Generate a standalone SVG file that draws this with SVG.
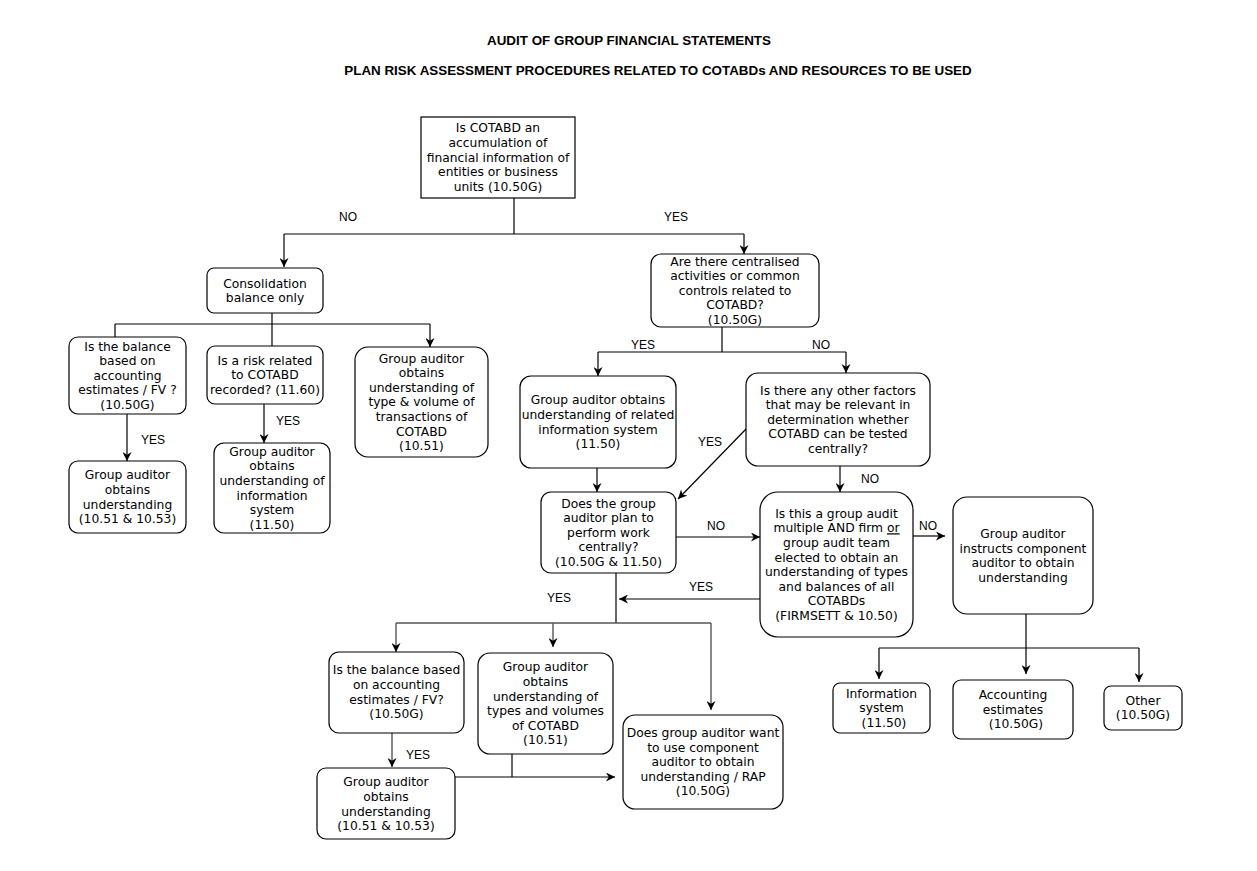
<svg xmlns="http://www.w3.org/2000/svg" width="1257" height="871" viewBox="0 0 1257 871">
<defs>
<marker id="ah" viewBox="0 0 10 10" refX="10" refY="5" markerWidth="9" markerHeight="9" markerUnits="userSpaceOnUse" orient="auto">
<path d="M0,0 L10,5 L0,10 L3,5 z" fill="#000"/>
</marker>
</defs>
<style>
.bx{fill:#fff;stroke:#000;stroke-width:1.2}
.t{font-family:"DejaVu Sans",Verdana,sans-serif;font-size:12.3px;fill:#000;text-anchor:middle}
.l{font-family:"Liberation Sans",Arial,sans-serif;font-size:12px;fill:#000}
.h{font-family:"Liberation Sans",Arial,sans-serif;font-size:13.4px;font-weight:bold;fill:#000;text-anchor:middle}
.c{fill:none;stroke:#000;stroke-width:1.2}
.g{fill:none;stroke:#555;stroke-width:1.4}
.a{marker-end:url(#ah)}
</style>
<rect width="1257" height="871" fill="#fff"/>
<text class="h" x="629" y="45">AUDIT OF GROUP FINANCIAL STATEMENTS</text>
<text class="h" x="658" y="75">PLAN RISK ASSESSMENT PROCEDURES RELATED TO COTABDs AND RESOURCES TO BE USED</text>

<g id="connectors">
<path class="c" d="M514,198 V234 M284,234 H744"/>
<path class="c a" d="M284,234 V267"/>
<path class="c a" d="M744,234 V254"/>
<path class="c" d="M272,313 V346 M115,324 H430 M115,324 V337"/>
<path class="c a" d="M430,324 V347"/>
<path class="c a" d="M127,414 V461"/>
<path class="c a" d="M264,404 V443"/>
<path class="c" d="M722,327 V352 M598,352 H846"/>
<path class="c a" d="M598,352 V376"/>
<path class="c a" d="M846,352 V373"/>
<path class="c a" d="M597,468 V492"/>
<path class="c a" d="M747,428 L678,499"/>
<path class="c a" d="M840,466 V492"/>
<path class="c a" d="M676,537 H760"/>
<path class="c a" d="M913,536 H945"/>
<path class="g a" d="M760,599 H619"/>
<path class="c" d="M616,573 V623"/>
<path class="g" d="M396,623 H711"/>
<path class="g a" d="M396,623 V652"/>
<path class="g a" d="M553,623 V647"/>
<path class="g a" d="M711,623 V710"/>
<path class="g a" d="M392,733 V767"/>
<path class="c" d="M512,754 V777"/>
<path class="c a" d="M455,777 H615"/>
<path class="c" d="M1026,614 V648 M879,648 H1139"/>
<path class="c a" d="M1026,648 V674"/>
<path class="c a" d="M879,648 V679"/>
<path class="c a" d="M1139,648 V682"/>
</g>

<g id="labels">
<text class="l" x="339" y="221">NO</text>
<text class="l" x="664" y="221">YES</text>
<text class="l" x="141" y="444">YES</text>
<text class="l" x="276" y="425">YES</text>
<text class="l" x="631" y="349">YES</text>
<text class="l" x="812" y="349">NO</text>
<text class="l" x="698" y="446">YES</text>
<text class="l" x="861" y="483">NO</text>
<text class="l" x="707" y="530">NO</text>
<text class="l" x="919" y="530">NO</text>
<text class="l" x="689" y="591">YES</text>
<text class="l" x="547" y="602">YES</text>
<text class="l" x="406" y="759">YES</text>
</g>

<g id="n-top">
<rect class="bx" x="421" y="117" width="154" height="81"/>
<text class="t"><tspan x="498" y="132.3">Is COTABD an</tspan><tspan x="498" y="146.9">accumulation of</tspan><tspan x="498" y="161.5">financial information of</tspan><tspan x="498" y="176.1">entities or business</tspan><tspan x="498" y="190.7">units (10.50G)</tspan></text>
</g>

<g id="n-consol">
<rect class="bx" x="207" y="268" width="116" height="45" rx="7"/>
<text class="t"><tspan x="265" y="287.5">Consolidation</tspan><tspan x="265" y="302.1">balance only</tspan></text>
</g>

<g id="n-bal1">
<rect class="bx" x="69" y="337" width="117" height="77" rx="9"/>
<text class="t"><tspan x="127.5" y="350.6">Is the balance</tspan><tspan x="127.5" y="365.2">based on</tspan><tspan x="127.5" y="379.8">accounting</tspan><tspan x="127.5" y="394.4">estimates / FV ?</tspan><tspan x="127.5" y="409">(10.50G)</tspan></text>
</g>

<g id="n-und1">
<rect class="bx" x="69" y="461" width="117" height="72" rx="9"/>
<text class="t"><tspan x="127.5" y="479.3">Group auditor</tspan><tspan x="127.5" y="493.9">obtains</tspan><tspan x="127.5" y="508.5">understanding</tspan><tspan x="127.5" y="523.1">(10.51 &amp; 10.53)</tspan></text>
</g>

<g id="n-risk">
<rect class="bx" x="207" y="346" width="116" height="58" rx="8"/>
<text class="t"><tspan x="265" y="364.7">Is a risk related</tspan><tspan x="265" y="379.3">to COTABD</tspan><tspan x="265" y="393.9">recorded? (11.60)</tspan></text>
</g>

<g id="n-info1">
<rect class="bx" x="214" y="443" width="116" height="90" rx="10"/>
<text class="t"><tspan x="272" y="455.8">Group auditor</tspan><tspan x="272" y="470.4">obtains</tspan><tspan x="272" y="485">understanding of</tspan><tspan x="272" y="499.6">information</tspan><tspan x="272" y="514.2">system</tspan><tspan x="272" y="528.8">(11.50)</tspan></text>
</g>

<g id="n-type1">
<rect class="bx" x="355" y="347" width="133" height="110" rx="13"/>
<text class="t"><tspan x="421.5" y="362.5">Group auditor</tspan><tspan x="421.5" y="377.1">obtains</tspan><tspan x="421.5" y="391.7">understanding of</tspan><tspan x="421.5" y="406.3">type &amp; volume of</tspan><tspan x="421.5" y="420.9">transactions of</tspan><tspan x="421.5" y="435.5">COTABD</tspan><tspan x="421.5" y="450.1">(10.51)</tspan></text>
</g>

<g id="n-central">
<rect class="bx" x="651" y="254" width="168" height="73" rx="10"/>
<text class="t"><tspan x="735" y="265.6">Are there centralised</tspan><tspan x="735" y="280.2">activities or common</tspan><tspan x="735" y="294.8">controls related to</tspan><tspan x="735" y="309.4">COTABD?</tspan><tspan x="735" y="324">(10.50G)</tspan></text>
</g>

<g id="n-relinfo">
<rect class="bx" x="520" y="376" width="156" height="92" rx="11"/>
<text class="t"><tspan x="598" y="404.4">Group auditor obtains</tspan><tspan x="598" y="419">understanding of related</tspan><tspan x="598" y="433.6">information system</tspan><tspan x="598" y="448.2">(11.50)</tspan></text>
</g>

<g id="n-other">
<rect class="bx" x="746" y="373" width="184" height="93" rx="12"/>
<text class="t"><tspan x="838" y="394.6">Is there any other factors</tspan><tspan x="838" y="409.2">that may be relevant in</tspan><tspan x="838" y="423.8">determination whether</tspan><tspan x="838" y="438.4">COTABD can be tested</tspan><tspan x="838" y="453">centrally?</tspan></text>
</g>

<g id="n-plan">
<rect class="bx" x="541" y="492" width="135" height="81" rx="10"/>
<text class="t"><tspan x="608.5" y="507.6">Does the group</tspan><tspan x="608.5" y="522.2">auditor plan to</tspan><tspan x="608.5" y="536.8">perform work</tspan><tspan x="608.5" y="551.4">centrally?</tspan><tspan x="608.5" y="566">(10.50G &amp; 11.50)</tspan></text>
</g>

<g id="n-multi">
<rect class="bx" x="760" y="492" width="153" height="145" rx="18"/>
<text class="t"><tspan x="836.5" y="517.7">Is this a group audit</tspan><tspan x="836.5" y="532.3">multiple AND firm <tspan text-decoration="underline">or</tspan></tspan><tspan x="836.5" y="546.9">group audit team</tspan><tspan x="836.5" y="561.5">elected to obtain an</tspan><tspan x="836.5" y="576.1">understanding of types</tspan><tspan x="836.5" y="590.7">and balances of all</tspan><tspan x="836.5" y="605.3">COTABDs</tspan><tspan x="836.5" y="619.9">(FIRMSETT &amp; 10.50)</tspan></text>
</g>

<g id="n-instr">
<rect class="bx" x="953" y="497" width="140" height="117" rx="14"/>
<text class="t"><tspan x="1023" y="538">Group auditor</tspan><tspan x="1023" y="552.6">instructs component</tspan><tspan x="1023" y="567.2">auditor to obtain</tspan><tspan x="1023" y="581.8">understanding</tspan></text>
</g>

<g id="n-isys">
<rect class="bx" x="833" y="683" width="97" height="50" rx="7"/>
<text class="t"><tspan x="881.5" y="697.7">Information</tspan><tspan x="881.5" y="712.3">system</tspan><tspan x="884" y="726.9">(11.50)</tspan></text>
</g>

<g id="n-acc">
<rect class="bx" x="953" y="680" width="120" height="59" rx="8"/>
<text class="t"><tspan x="1013" y="699.2">Accounting</tspan><tspan x="1013" y="713.8">estimates</tspan><tspan x="1016" y="728.4">(10.50G)</tspan></text>
</g>

<g id="n-oth">
<rect class="bx" x="1104" y="686" width="78" height="44" rx="7"/>
<text class="t"><tspan x="1143" y="704.5">Other</tspan><tspan x="1143" y="719.1">(10.50G)</tspan></text>
</g>

<g id="n-bal2">
<rect class="bx" x="329" y="652" width="135" height="81" rx="10"/>
<text class="t"><tspan x="396.5" y="674.4">Is the balance based</tspan><tspan x="396.5" y="689">on accounting</tspan><tspan x="396.5" y="703.6">estimates / FV?</tspan><tspan x="396.5" y="718.2">(10.50G)</tspan></text>
</g>

<g id="n-types2">
<rect class="bx" x="478" y="653" width="135" height="101" rx="12"/>
<text class="t"><tspan x="545.5" y="671.3">Group auditor</tspan><tspan x="545.5" y="685.9">obtains</tspan><tspan x="545.5" y="700.5">understanding of</tspan><tspan x="545.5" y="715.1">types and volumes</tspan><tspan x="545.5" y="729.7">of COTABD</tspan><tspan x="545.5" y="744.3">(10.51)</tspan></text>
</g>

<g id="n-und2">
<rect class="bx" x="317" y="768" width="138" height="71" rx="9"/>
<text class="t"><tspan x="386" y="786.4">Group auditor</tspan><tspan x="386" y="801">obtains</tspan><tspan x="386" y="815.6">understanding</tspan><tspan x="386" y="830.2">(10.51 &amp; 10.53)</tspan></text>
</g>

<g id="n-comp">
<rect class="bx" x="623" y="715" width="160" height="94" rx="12"/>
<text class="t"><tspan x="703" y="737">Does group auditor want</tspan><tspan x="703" y="751.6">to use component</tspan><tspan x="703" y="766.2">auditor to obtain</tspan><tspan x="703" y="780.8">understanding / RAP</tspan><tspan x="703" y="795.4">(10.50G)</tspan></text>
</g>
</svg>
